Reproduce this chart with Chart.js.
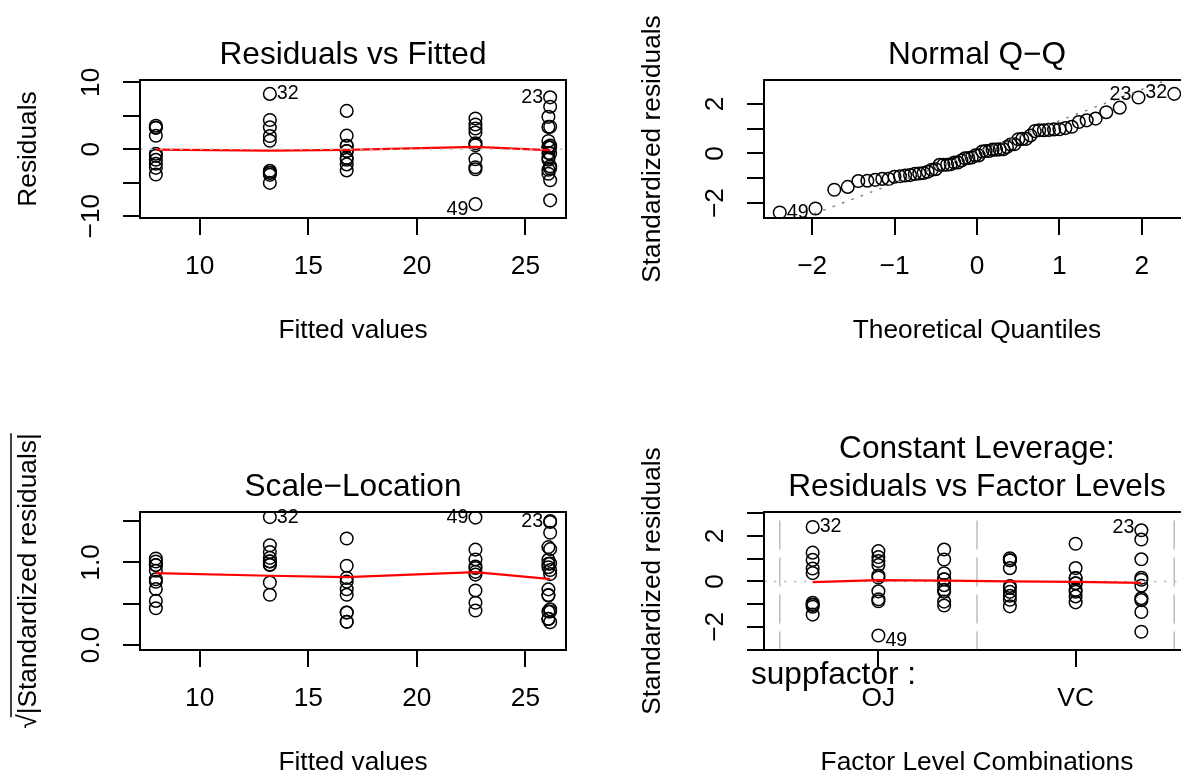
<!DOCTYPE html>
<html>
<head>
<meta charset="utf-8">
<script src="https://cdn.jsdelivr.net/npm/chart.js@4.4.1/dist/chart.umd.min.js"></script>
<style>
  html, body { margin: 0; padding: 0; background: #fff; overflow: hidden; }
  #page { position: relative; width: 1181px; height: 776px; overflow: hidden; background: #fff; }
  #page canvas { position: absolute; }
</style>
</head>
<body>
<div id="page">
  <canvas id="residFitted" width="624" height="432" style="left:0;top:0"></canvas>
  <canvas id="normalQQ" width="624" height="432" style="left:624px;top:0"></canvas>
  <canvas id="scaleLocation" width="624" height="432" style="left:0;top:432px"></canvas>
  <canvas id="factorLevels" width="624" height="432" style="left:624px;top:432px"></canvas>
</div>
<script>
// Groups in data row order (rows 1-10 VC 0.5, 11-20 VC 1, ... 51-60 OJ 2)
const groupNames = ['VC 0.5', 'VC 1', 'VC 2', 'OJ 0.5', 'OJ 1', 'OJ 2'];
const groupFitted = [7.98, 16.77, 26.14, 13.23, 22.70, 26.06];
const groupLevel = [4, 5, 6, 1, 2, 3];

// Residuals
const residVC05 = [-3.78, 3.52, -0.68, -2.18, -1.58, 2.02, 3.22, 3.22, -2.78, -0.98];
const residVC1 = [-0.27, -0.27, -1.57, 0.53, 5.73, 0.53, -3.17, -2.27, 2.03, -1.27];
const residVC2 = [-2.54, -7.64, 7.76, -0.64, 0.26, 6.36, 0.56, -4.64, -2.84, 3.36];
const residOJ05 = [1.97, 8.27, 4.37, -3.53, 1.27, -3.23, -5.03, -3.83, 3.27, -3.53];
const residOJ1 = [-3.0, 0.6, 0.9, 3.7, -2.7, 2.5, 3.1, -1.5, -8.2, 4.6];
const residOJ2 = [-0.56, 0.34, -3.66, -1.56, -1.26, 4.84, 0.34, 1.24, 3.34, -3.06];

// Standardized residuals
const stdVC05 = [-1.097, 1.022, -0.197, -0.633, -0.459, 0.586, 0.935, 0.935, -0.807, -0.284];
const stdVC1 = [-0.078, -0.078, -0.456, 0.154, 1.663, 0.154, -0.920, -0.659, 0.589, -0.369];
const stdVC2 = [-0.737, -2.218, 2.253, -0.186, 0.075, 1.846, 0.163, -1.347, -0.824, 0.975];
const stdOJ05 = [0.572, 2.401, 1.268, -1.025, 0.369, -0.938, -1.460, -1.112, 0.949, -1.025];
const stdOJ1 = [-0.871, 0.174, 0.261, 1.074, -0.784, 0.726, 0.900, -0.435, -2.380, 1.335];
const stdOJ2 = [-0.163, 0.099, -1.062, -0.453, -0.366, 1.405, 0.099, 0.360, 0.969, -0.888];

// sqrt(|standardized residuals|)
const sqrtVC05 = [1.047, 1.011, 0.444, 0.796, 0.677, 0.766, 0.967, 0.967, 0.898, 0.533];
const sqrtVC1 = [0.280, 0.280, 0.675, 0.392, 1.290, 0.392, 0.959, 0.812, 0.767, 0.607];
const sqrtVC2 = [0.858, 1.489, 1.501, 0.431, 0.274, 1.359, 0.404, 1.161, 0.908, 0.987];
const sqrtOJ05 = [0.756, 1.549, 1.126, 1.012, 0.607, 0.969, 1.208, 1.055, 0.974, 1.012];
const sqrtOJ1 = [0.933, 0.417, 0.511, 1.036, 0.885, 0.852, 0.949, 0.660, 1.543, 1.155];
const sqrtOJ2 = [0.404, 0.315, 1.031, 0.673, 0.605, 1.185, 0.315, 0.600, 0.984, 0.942];

// Normal Q-Q: theoretical quantiles and sorted standardized residuals
const qqTheoretical = [
  -2.394, -1.960, -1.732, -1.569, -1.440, -1.331, -1.236, -1.150, -1.073, -1.001,
  -0.935, -0.872, -0.812, -0.755, -0.701, -0.649, -0.598, -0.549, -0.501, -0.454,
  -0.408, -0.363, -0.319, -0.275, -0.232, -0.189, -0.147, -0.105, -0.063, -0.021,
  0.021, 0.063, 0.105, 0.147, 0.189, 0.232, 0.275, 0.319, 0.363, 0.408,
  0.454, 0.501, 0.549, 0.598, 0.649, 0.701, 0.755, 0.812, 0.872, 0.935,
  1.001, 1.073, 1.150, 1.236, 1.331, 1.440, 1.569, 1.732, 1.960, 2.394
];
const qqSample = [
  -2.380, -2.218, -1.460, -1.347, -1.112, -1.097, -1.062, -1.025, -1.025, -0.938,
  -0.920, -0.888, -0.871, -0.824, -0.807, -0.784, -0.737, -0.659, -0.633, -0.459,
  -0.456, -0.453, -0.435, -0.369, -0.366, -0.284, -0.197, -0.186, -0.163, -0.078,
  -0.078, 0.075, 0.099, 0.099, 0.154, 0.154, 0.163, 0.174, 0.261, 0.360,
  0.369, 0.572, 0.586, 0.589, 0.726, 0.900, 0.935, 0.935, 0.949, 0.969,
  0.975, 1.022, 1.074, 1.268, 1.335, 1.405, 1.663, 1.846, 2.253, 2.401
];
const qqLineX = [-3, 3];
const qqLineY = [-3.719, 3.839];

// Red smoother lines
const smoothFitted = [7.98, 13.23, 16.77, 22.70, 26.06, 26.14];
const smoothResid = [-0.05, -0.2, -0.1, 0.35, -0.12, -0.12];
const smoothSqrt = [0.871, 0.838, 0.822, 0.883, 0.80, 0.80];
const smoothLevelX = [1, 2, 3, 4, 5, 6];
const smoothLevelY = [-0.03, 0.06, 0.04, 0.0, -0.02, -0.06];

// Axis limits, ticks and tick labels
const fittedRange = [7.25, 26.87];
const fittedTicks = [10, 15, 20, 25];
const fittedTickLabels = ['10', '15', '20', '25'];
const residRange = [-10.28, 10.35];
const residTicks = [-10, -5, 0, 5, 10];
const residTickLabels = ['\u221210', '', '0', '', '10'];
const qqXRange = [-2.585, 2.585];
const qqXTicks = [-2, -1, 0, 1, 2];
const qqXTickLabels = ['\u22122', '\u22121', '0', '1', '2'];
const qqYRange = [-2.6, 2.96];
const qqYTicks = [-2, -1, 0, 1, 2];
const qqYTickLabels = ['\u22122', '', '0', '', '2'];
const sqrtRange = [-0.062, 1.611];
const sqrtTicks = [0, 0.5, 1, 1.5];
const sqrtTickLabels = ['0.0', '', '1.0', ''];
const levelRange = [0.26, 6.74];
const levelTicks = [2, 5];
const levelTickLabels = ['OJ', 'VC'];
const levelBreaks = [0.5, 3.5, 6.5];
const levelYRange = [-3.02, 3.06];
const levelYTicks = [-3, -2, -1, 0, 1, 2, 3];
const levelYTickLabels = ['', '\u22122', '', '0', '', '2', ''];

const FONT = '"Liberation Sans", Arial, Helvetica, sans-serif';
Chart.defaults.font.family = FONT;
Chart.defaults.color = '#000';

function groupPoints(xValues, groups) {
    const pts = [];
    groups.forEach(function(vals, g) {
        vals.forEach(function(v) { pts.push({x: xValues[g], y: v}); });
    });
    return pts;
}

function pairPoints(xs, ys) {
    return xs.map(function(x, i) { return {x: x, y: ys[i]}; });
}

function circles(data) {
    return {
        data: data, showLine: false, pointStyle: 'circle', pointRadius: 6.3,
        pointBorderWidth: 1.5, pointBorderColor: '#000', pointBackgroundColor: 'rgba(0,0,0,0)'
    };
}

function redLine(data) {
    return { data: data, showLine: true, borderColor: '#FF0000', borderWidth: 2.2, pointRadius: 0, tension: 0 };
}

function refLine(data, color, dash) {
    return { data: data, showLine: true, borderColor: color, borderWidth: 1.5, borderDash: dash, pointRadius: 0 };
}

function axis(kind, range, ticks, labels, title, pad) {
    const a = {
        type: 'linear', min: range[0], max: range[1], bounds: 'data',
        afterBuildTicks: function(s) { s.ticks = ticks.map(function(v) { return {value: v}; }); },
        ticks: {
            autoSkip: false, padding: pad, font: {size: 26.3}, color: '#000',
            callback: function(v, i) { return labels[i]; }
        },
        grid: { drawOnChartArea: false, drawTicks: true, tickLength: 17, color: '#000', lineWidth: 2 },
        border: { display: false },
        title: { display: true, text: title, font: {size: 26.3}, color: '#000' }
    };
    if (kind === 'x') {
        a.position = 'bottom';
        a.ticks.maxRotation = 0;
        a.ticks.minRotation = 0;
        a.afterFit = function(s) { s.height = 150; };
        a.title.padding = {top: 0, bottom: 21.2};
    } else {
        a.position = 'left';
        a.ticks.minRotation = 90;
        a.ticks.maxRotation = 90;
        a.ticks.crossAlign = 'center';
        a.afterFit = function(s) { s.width = 140; };
        a.title.padding = {top: 13.2, bottom: 0};
    }
    return a;
}

// Box round the plot region
const boxPlugin = {
    id: 'box',
    afterDraw: function(chart) {
        const a = chart.chartArea;
        const ctx = chart.ctx;
        ctx.save();
        ctx.strokeStyle = '#000';
        ctx.lineWidth = 2;
        ctx.strokeRect(a.left, a.top, a.right - a.left, a.bottom - a.top);
        ctx.restore();
    }
};

// Observation numbers next to the extreme points
function idLabels(items) {
    return {
        id: 'idLabels',
        afterDraw: function(chart) {
            const ctx = chart.ctx;
            ctx.save();
            ctx.font = '19.7px ' + FONT;
            ctx.fillStyle = '#000';
            ctx.textBaseline = 'middle';
            items.forEach(function(it) {
                const px = chart.scales.x.getPixelForValue(it.x);
                const py = chart.scales.y.getPixelForValue(it.y);
                ctx.textAlign = it.side === 'right' ? 'left' : 'right';
                ctx.fillText(it.text, px + (it.side === 'right' ? 7 : -7), py + (it.dy || 0));
            });
            ctx.restore();
        }
    };
}

function titleOpts(text) {
    return {
        display: true, text: text, fullSize: false, color: '#000',
        font: {size: 31.6, weight: 'normal', lineHeight: 1},
        padding: {top: 39.2, bottom: 9.2}
    };
}

function baseOptions(scales, title, subtitle) {
    return {
        responsive: false, animation: false, events: [],
        layout: { autoPadding: false, padding: {left: 0, right: 58, top: 0, bottom: 64} },
        scales: scales,
        plugins: { legend: {display: false}, tooltip: {enabled: false}, title: title, subtitle: subtitle || {display: false} }
    };
}

// Residuals vs Fitted
new Chart(document.getElementById('residFitted'), {
    type: 'scatter',
    data: { datasets: [
        refLine(pairPoints(fittedRange, [0, 0]), '#BEBEBE', [2.5, 7.5]),
        redLine(pairPoints(smoothFitted, smoothResid)),
        circles(groupPoints(groupFitted, [residVC05, residVC1, residVC2, residOJ05, residOJ1, residOJ2]))
    ] },
    options: baseOptions({
        x: axis('x', fittedRange, fittedTicks, fittedTickLabels, 'Fitted values', 16.1),
        y: axis('y', residRange, residTicks, residTickLabels, 'Residuals', 8.7)
    }, titleOpts('Residuals vs Fitted')),
    plugins: [boxPlugin, idLabels([
        {text: '32', x: groupFitted[3], y: residOJ05[1], side: 'right'},
        {text: '23', x: groupFitted[2], y: residVC2[2], side: 'left'},
        {text: '49', x: groupFitted[4], y: residOJ1[8], side: 'left', dy: 5}
    ])]
});

// Normal Q-Q
new Chart(document.getElementById('normalQQ'), {
    type: 'scatter',
    data: { datasets: [
        refLine(pairPoints(qqLineX, qqLineY), '#7F7F7F', [2.5, 7.5]),
        circles(pairPoints(qqTheoretical, qqSample))
    ] },
    options: baseOptions({
        x: axis('x', qqXRange, qqXTicks, qqXTickLabels, 'Theoretical Quantiles', 16.1),
        y: axis('y', qqYRange, qqYTicks, qqYTickLabels, 'Standardized residuals', 16)
    }, titleOpts('Normal Q\u2212Q')),
    plugins: [boxPlugin, idLabels([
        {text: '23', x: qqTheoretical[58], y: qqSample[58], side: 'left', dy: -2.5},
        {text: '32', x: qqTheoretical[59], y: qqSample[59], side: 'left', dy: -1.5},
        {text: '49', x: qqTheoretical[0], y: qqSample[0], side: 'right'}
    ])]
});

// Scale-Location
const sqrtOverline = {
    id: 'sqrtOverline',
    afterDraw: function(chart) {
        const ctx = chart.ctx;
        const a = chart.chartArea;
        const label = chart.options.scales.y.title.text;
        ctx.save();
        ctx.font = '26.3px ' + FONT;
        const w = ctx.measureText(label).width;
        const ws = ctx.measureText('\u221A').width;
        const cy = (a.top + a.bottom) / 2;
        ctx.strokeStyle = '#000';
        ctx.lineWidth = 1.5;
        ctx.beginPath();
        ctx.moveTo(11, cy + w / 2 - ws * 0.8);
        ctx.lineTo(11, cy - w / 2);
        ctx.stroke();
        ctx.restore();
    }
};

new Chart(document.getElementById('scaleLocation'), {
    type: 'scatter',
    data: { datasets: [
        redLine(pairPoints(smoothFitted, smoothSqrt)),
        circles(groupPoints(groupFitted, [sqrtVC05, sqrtVC1, sqrtVC2, sqrtOJ05, sqrtOJ1, sqrtOJ2]))
    ] },
    options: baseOptions({
        x: axis('x', fittedRange, fittedTicks, fittedTickLabels, 'Fitted values', 16.1),
        y: axis('y', sqrtRange, sqrtTicks, sqrtTickLabels, '\u221A|Standardized residuals|', 12.7)
    }, titleOpts('Scale\u2212Location')),
    plugins: [boxPlugin, sqrtOverline, idLabels([
        {text: '32', x: groupFitted[3], y: sqrtOJ05[1], side: 'right'},
        {text: '49', x: groupFitted[4], y: sqrtOJ1[8], side: 'left'},
        {text: '23', x: groupFitted[2], y: sqrtVC2[2], side: 'left'}
    ])]
});

// Constant Leverage: Residuals vs Factor Levels
const factorName = {
    id: 'factorName',
    afterDraw: function(chart) {
        const ctx = chart.ctx;
        const a = chart.chartArea;
        ctx.save();
        ctx.font = '31.6px ' + FONT;
        ctx.fillStyle = '#000';
        ctx.textAlign = 'left';
        ctx.textBaseline = 'alphabetic';
        const text = 'suppfactor :';
        const w = ctx.measureText(text).width;
        ctx.fillText(text, a.left - 0.05 * (a.right - a.left) + 0.05 * w, a.bottom + 34);
        ctx.restore();
    }
};

const levelTitle = titleOpts('Constant Leverage:');
levelTitle.padding = {top: 1.2, bottom: 0};
const levelSubtitle = titleOpts('Residuals vs Factor Levels');
levelSubtitle.padding = {top: 6.4, bottom: 9.2};

new Chart(document.getElementById('factorLevels'), {
    type: 'scatter',
    data: { datasets: [
        redLine(pairPoints(smoothLevelX, smoothLevelY)),
        refLine(pairPoints(levelRange, [0, 0]), '#BEBEBE', [2.5, 7.5]),
        refLine(pairPoints([levelBreaks[0], levelBreaks[0]], [-10, 10]), '#BEBEBE', [29, 8]),
        refLine(pairPoints([levelBreaks[1], levelBreaks[1]], [-10, 10]), '#BEBEBE', [29, 8]),
        refLine(pairPoints([levelBreaks[2], levelBreaks[2]], [-10, 10]), '#BEBEBE', [29, 8]),
        circles(groupPoints(groupLevel, [stdVC05, stdVC1, stdVC2, stdOJ05, stdOJ1, stdOJ2]))
    ] },
    options: baseOptions({
        x: axis('x', levelRange, levelTicks, levelTickLabels, 'Factor Level Combinations', 16.1),
        y: axis('y', levelYRange, levelYTicks, levelYTickLabels, 'Standardized residuals', 16)
    }, levelTitle, levelSubtitle),
    plugins: [boxPlugin, factorName, idLabels([
        {text: '32', x: groupLevel[3], y: stdOJ05[1], side: 'right'},
        {text: '49', x: groupLevel[4], y: stdOJ1[8], side: 'right', dy: 5.5},
        {text: '23', x: groupLevel[2], y: stdVC2[2], side: 'left', dy: -2.5}
    ])]
});
</script>
</body>
</html>
